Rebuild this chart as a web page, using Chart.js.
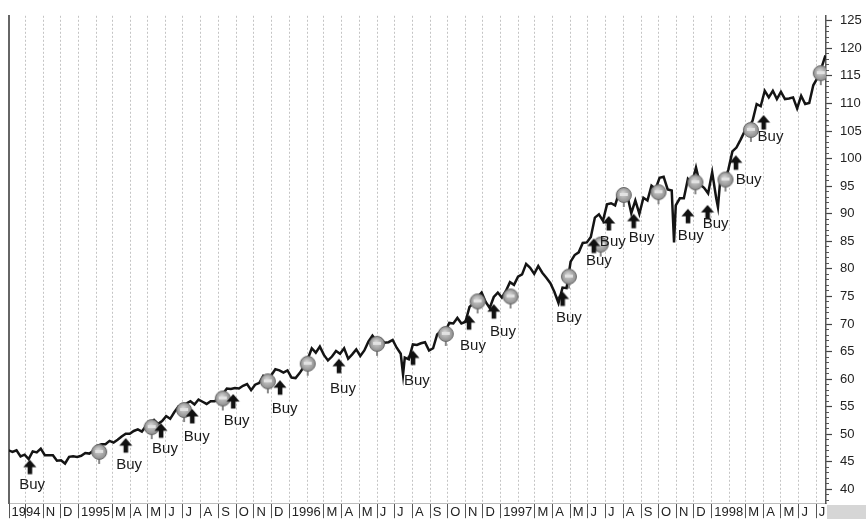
<!DOCTYPE html>
<html>
<head>
<meta charset="utf-8">
<script src="https://cdn.jsdelivr.net/npm/chart.js@4.4.0/dist/chart.umd.min.js"></script>
<style>
  html, body { margin: 0; padding: 0; background: #fff; }
  #wrap { position: relative; width: 866px; height: 519px; }
  #corner { position: absolute; left: 827px; top: 505px; width: 39px; height: 14px; background: #d6d6d6; }
</style>
</head>
<body>
<div id="wrap">
  <canvas id="chart" width="866" height="519"></canvas>
  <div id="corner"></div>
</div>
<script>
// weekly closes, one value per Friday starting 1994-09-02
const firstWeek = '1994-09-02';
const weeklyClose = [
  47.1, 46.8, 47.1, 46.0, 46.3,          // Sep 94
  45.5, 46.9, 46.7, 47.4,                // Oct
  46.2, 46.2, 46.2, 45.2,                // Nov
  45.3, 44.7, 45.9, 46.0, 45.9,          // Dec
  46.1, 46.6, 46.5, 47.0,                // Jan 95
  47.9, 48.2, 48.2, 48.8,                // Feb
  48.5, 49.0, 49.6, 50.1, 50.1,          // Mar
  50.6, 50.9, 50.5, 51.5,                // Apr
  52.0, 52.6, 51.9, 52.4,                // May
  53.3, 52.8, 54.0, 55.0, 54.5,          // Jun
  55.6, 56.0, 55.4, 56.3,                // Jul
  55.9, 55.5, 56.0, 56.0,                // Aug
  56.4, 57.3, 58.3, 58.2, 58.4,          // Sep
  58.3, 58.8, 59.1, 58.0,                // Oct
  59.0, 59.3, 60.6, 60.0,                // Nov
  60.7, 61.8, 61.6, 61.2, 61.6,          // Dec
  60.3, 60.2, 61.1, 62.2,                // Jan 96
  63.6, 65.6, 64.8, 65.9,                // Feb
  64.4, 63.4, 64.1, 65.1, 64.6,          // Mar
  65.6, 63.7, 64.5, 65.4,                // Apr
  64.2, 65.2, 66.8, 67.9, 66.9,          // May
  67.3, 66.6, 66.7, 67.1,                // Jun
  65.7, 64.6, 63.9, 63.6,                // Jul
  66.3, 66.2, 66.5, 66.7, 65.2,          // Aug
  65.6, 68.1, 68.7, 68.6,                // Sep
  70.2, 70.1, 71.1, 70.1,                // Oct
  70.4, 73.1, 73.8, 74.9, 75.7,          // Nov
  74.0, 72.9, 74.9, 75.7,                // Dec
  74.8, 76.0, 77.6, 77.1, 78.6,          // Jan 97
  79.0, 80.9, 80.2, 79.1,                // Feb
  80.5, 79.3, 78.4, 77.4,                // Mar
  75.8, 73.8, 76.6, 76.5,                // Apr
  81.3, 82.5, 83.0, 84.7, 84.8,          // May
  85.8, 89.3, 89.9, 88.7,                // Jun
  91.7, 91.9, 91.5, 93.9,                // Jul
  93.3, 93.4, 90.1, 92.4, 90.0,          // Aug
  92.9, 92.4, 95.1, 94.5,                // Sep
  96.5, 96.7, 94.4, 94.2, 91.5,          // Oct
  92.8, 92.8, 96.3, 95.5,                // Nov
  98.4, 95.3, 94.7, 93.7,                // Dec
  97.5, 92.8, 96.2, 95.8, 98.0,          // Jan 98
  101.3, 102.0, 103.4, 104.9,            // Feb
  105.6, 106.9, 109.9, 109.5,            // Mar
  112.3, 111.1, 112.3, 110.8,            // Apr
  112.1, 110.8, 110.9, 111.1, 109.1,     // May
  111.4, 109.9, 110.1, 113.3,            // Jun
  114.6, 116.4, 118.7                    // Jul
];

// intraday lows that stick out of the weekly line
const spikeDates = ['1996-07-16', '1997-10-28', '1998-01-12'];
const spikeLows = [60.8, 84.8, 91.2];

// buy arrows (tip) and their captions
const buyDates = ['1994-10-09', '1995-03-24', '1995-05-24', '1995-07-17', '1995-09-26', '1995-12-16',
  '1996-03-27', '1996-08-02', '1996-11-07', '1996-12-20', '1997-04-18', '1997-06-11',
  '1997-07-07', '1997-08-19', '1997-11-21', '1997-12-25', '1998-02-12', '1998-04-01'];
const buyPrices = [45.4, 49.3, 52.0, 54.6, 57.3, 59.8, 63.7, 65.2, 71.6, 73.6, 75.9, 85.5,
  89.6, 90.0, 90.9, 91.6, 100.6, 107.9];
const buyTextDates = ['1994-10-13', '1995-03-30', '1995-05-31', '1995-07-25', '1995-10-02', '1995-12-24',
  '1996-04-03', '1996-08-09', '1996-11-14', '1997-01-05', '1997-04-29', '1997-06-20',
  '1997-07-14', '1997-09-02', '1997-11-26', '1998-01-08', '1998-03-06', '1998-04-13'];
const buyTextPrices = [40.9, 44.5, 47.4, 49.5, 52.4, 54.7, 58.3, 59.7, 66.1, 68.6, 71.1, 81.5,
  84.9, 85.6, 86.0, 88.2, 96.2, 104.0];

// grey round markers sitting on the price line
const markDates = ['1995-02-06', '1995-05-08', '1995-07-03', '1995-09-08', '1995-11-25', '1996-02-02',
  '1996-06-01', '1996-09-28', '1996-11-22', '1997-01-18', '1997-04-29', '1997-06-23',
  '1997-08-02', '1997-10-01', '1997-12-04', '1998-01-25', '1998-03-10', '1998-07-09'];
const markPrices = [46.8, 51.3, 54.4, 56.5, 59.6, 62.8, 66.4, 68.2, 74.1, 75.0, 78.6, 84.4,
  93.4, 93.9, 95.7, 96.2, 105.2, 115.5];

const monthInitials = ['J', 'F', 'M', 'A', 'M', 'J', 'J', 'A', 'S', 'O', 'N', 'D'];
const firstMonth = '1994-10';
const monthCount = 46;
const xStart = '1994-09-03';
const xEnd = '1998-07-18';
const yMin = 37.5;
const yMax = 125.9;

const ORIGIN = Date.UTC(1994, 9, 1);
function day(s) {
  const [y, m, d] = s.split('-').map(Number);
  return (Date.UTC(y, m - 1, d || 1) - ORIGIN) / 864e5;
}

const w0 = day(firstWeek);
const linePts = weeklyClose.map((v, i) => ({ x: w0 + 7 * i, y: v }));
spikeDates.forEach((d, i) => linePts.push({ x: day(d), y: spikeLows[i] }));
linePts.sort((a, b) => a.x - b.x);

const buyPts = buyDates.map((d, i) => ({ x: day(d), y: buyPrices[i] }));
const markPts = markDates.map((d, i) => ({ x: day(d), y: markPrices[i] }));

// month ticks along the bottom; the first year label sits at the left edge
const xTicks = [{ value: day(xStart), label: '1994', feb: false }];
const [fy, fm] = firstMonth.split('-').map(Number);
for (let i = 0; i < monthCount; i++) {
  const k = fm - 1 + i;
  const y = fy + Math.floor(k / 12), m = k % 12;
  let label = m === 0 ? String(y) : monthInitials[m];
  if (i === 0 || m === 1) label = '';
  xTicks.push({ value: (Date.UTC(y, m, 1) - ORIGIN) / 864e5, label: label, feb: m === 1 });
}

function arrowImage() {
  const c = document.createElement('canvas');
  c.width = 16; c.height = 32;
  const g = c.getContext('2d');
  g.fillStyle = '#111';
  g.beginPath();
  g.moveTo(8, 16); g.lineTo(1.5, 23.5); g.lineTo(14.5, 23.5);
  g.closePath(); g.fill();
  g.fillRect(5.8, 22.5, 4.6, 8);
  return c;
}

function markImage() {
  const c = document.createElement('canvas');
  c.width = 20; c.height = 26;
  const g = c.getContext('2d');
  g.fillStyle = '#888';
  g.fillRect(9, 19, 2, 6);
  const grad = g.createRadialGradient(9, 11, 1, 10, 13, 8);
  grad.addColorStop(0, '#cfcfcf');
  grad.addColorStop(1, '#8a8a8a');
  g.fillStyle = grad;
  g.beginPath(); g.arc(10, 13, 7.5, 0, Math.PI * 2); g.fill();
  g.strokeStyle = '#666'; g.lineWidth = 1;
  g.stroke();
  g.fillStyle = '#e2e2e2';
  g.fillRect(6, 11, 8, 3);
  return c;
}

const buyText = {
  id: 'buyText',
  afterDatasetsDraw(chart) {
    const { ctx, scales } = chart;
    ctx.save();
    ctx.font = '15px "Liberation Sans", Arial, sans-serif';
    ctx.fillStyle = '#1b1b1b';
    ctx.textAlign = 'center';
    ctx.textBaseline = 'middle';
    buyTextDates.forEach((d, i) => {
      ctx.fillText('Buy', scales.x.getPixelForValue(day(d)), scales.y.getPixelForValue(buyTextPrices[i]));
    });
    ctx.restore();
  }
};

Chart.defaults.font.family = '"Liberation Sans", Arial, sans-serif';

new Chart(document.getElementById('chart'), {
  type: 'line',
  data: {
    datasets: [
      {
        data: linePts,
        borderColor: '#141414',
        borderWidth: 2.5,
        pointRadius: 0,
        tension: 0,
        order: 2
      },
      {
        type: 'scatter',
        data: markPts,
        pointStyle: markImage(),
        pointRadius: 8,
        order: 1
      },
      {
        type: 'scatter',
        data: buyPts,
        pointStyle: arrowImage(),
        pointRadius: 8,
        order: 0
      }
    ]
  },
  options: {
    responsive: false,
    animation: false,
    layout: { padding: { top: 12, left: 0, right: 0, bottom: 0 } },
    plugins: { legend: { display: false }, tooltip: { enabled: false } },
    scales: {
      x: {
        type: 'linear',
        min: day(xStart),
        max: day(xEnd),
        afterBuildTicks: s => { s.ticks = xTicks.map(t => ({ value: t.value })); },
        afterFit: s => { s.height = 15; },
        ticks: {
          autoSkip: false,
          maxRotation: 0,
          minRotation: 0,
          align: 'start',
          padding: -14,
          color: '#222',
          font: { size: 13 },
          callback: (v, i) => (xTicks[i] && xTicks[i].label ? '\u2009' + xTicks[i].label : '')
        },
        grid: {
          color: c => (c.index === 0 ? 'rgba(0,0,0,0)' : '#c4c4c4'),
          lineWidth: 1,
          drawTicks: true,
          tickLength: 15,
          tickWidth: 1,
          tickColor: c => (xTicks[c.index] && xTicks[c.index].feb ? 'rgba(0,0,0,0)' : '#555')
        },
        border: { display: true, color: '#bdbdbd', width: 1, dash: [2, 2] }
      },
      yLeft: {
        type: 'linear',
        position: 'left',
        min: yMin,
        max: yMax,
        afterFit: s => { s.width = 8; },
        ticks: { display: false },
        grid: { display: false },
        border: { display: true, color: '#666', width: 2 }
      },
      yMinor: {
        type: 'linear',
        position: 'right',
        weight: -1,
        min: yMin,
        max: yMax,
        afterFit: s => { s.width = 0; },
        ticks: { display: false, stepSize: 1, maxTicksLimit: 200, includeBounds: false },
        grid: { drawOnChartArea: false, drawTicks: true, tickLength: 3, tickColor: '#555', tickWidth: 1 },
        border: { display: false }
      },
      y: {
        type: 'linear',
        position: 'right',
        min: yMin,
        max: yMax,
        afterFit: s => { s.width = 40; },
        ticks: { stepSize: 5, maxTicksLimit: 50, includeBounds: false, padding: 8, color: '#222', font: { size: 13 } },
        grid: { drawOnChartArea: false, drawTicks: true, tickLength: 6, tickColor: '#444', tickWidth: 1.2 },
        border: { display: true, color: '#555', width: 1.5 }
      }
    }
  },
  plugins: [buyText]
});
</script>
</body>
</html>
